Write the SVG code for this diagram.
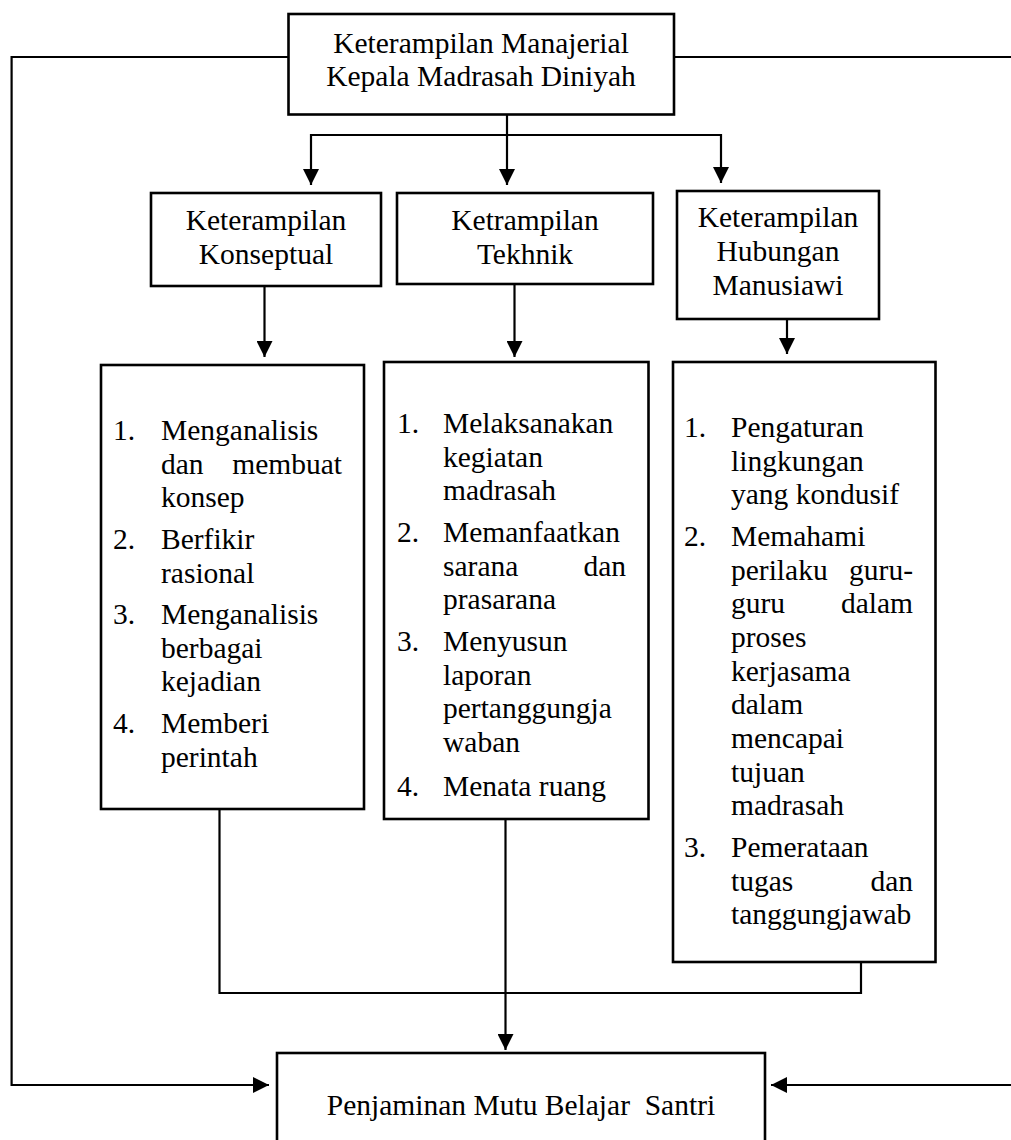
<svg xmlns="http://www.w3.org/2000/svg" width="1011" height="1140" viewBox="0 0 1011 1140" font-family="'Liberation Serif', 'Times New Roman', serif">
<defs>
<style>
.box{fill:#fff;stroke:#000;stroke-width:2.6}
.ln{fill:none;stroke:#000;stroke-width:2.2}
text{font-family:"Liberation Serif","Times New Roman",serif;font-size:29.5px;fill:#000}
.c{text-anchor:middle}
.e{text-anchor:end}
</style>
<marker id="ah" viewBox="0 0 10 10" refX="10" refY="5" markerWidth="16" markerHeight="16" markerUnits="userSpaceOnUse" orient="auto" preserveAspectRatio="none">
<path d="M0,0 L10,5 L0,10 z" fill="#000"/>
</marker>
</defs>
<rect width="1011" height="1140" fill="#fff"/>

<g id="connectors">
<path class="ln" d="M288,57 H11.6 V1085 H269" marker-end="url(#ah)"/>
<path class="ln" d="M674,57 H1012"/>
<path class="ln" d="M1012,1085 H771" marker-end="url(#ah)"/>
<path class="ln" d="M507,114 V185" marker-end="url(#ah)"/>
<path class="ln" d="M311,135 H721"/>
<path class="ln" d="M311,134 V185" marker-end="url(#ah)"/>
<path class="ln" d="M721,134 V183" marker-end="url(#ah)"/>
<path class="ln" d="M264.5,286 V357" marker-end="url(#ah)"/>
<path class="ln" d="M514.5,284 V357" marker-end="url(#ah)"/>
<path class="ln" d="M787,319 V354" marker-end="url(#ah)"/>
<path class="ln" d="M219.5,809 V993 H861 V962"/>
<path class="ln" d="M505.5,819 V1050" marker-end="url(#ah)"/>
</g>

<g id="node-manajerial">
<rect class="box" x="288.5" y="14" width="385.5" height="100.5"/>
<text class="c" x="481" y="53">Keterampilan Manajerial</text>
<text class="c" x="481" y="86">Kepala Madrasah Diniyah</text>
</g>

<g id="node-konseptual">
<rect class="box" x="151" y="193" width="230" height="93"/>
<text class="c" x="266" y="230">Keterampilan</text>
<text class="c" x="266" y="264">Konseptual</text>
</g>

<g id="node-tekhnik">
<rect class="box" x="397" y="193" width="256" height="91"/>
<text class="c" x="525" y="230">Ketrampilan</text>
<text class="c" x="525" y="264">Tekhnik</text>
</g>

<g id="node-hubungan">
<rect class="box" x="677" y="191" width="202" height="128"/>
<text class="c" x="778" y="227">Keterampilan</text>
<text class="c" x="778" y="261">Hubungan</text>
<text class="c" x="778" y="295">Manusiawi</text>
</g>

<g id="node-list-konseptual">
<rect class="box" x="101" y="365" width="263" height="444"/>
<text x="113" y="440">1.</text>
<text x="161" y="440">Menganalisis</text>
<text x="161" y="474">dan</text>
<text class="e" x="342" y="474">membuat</text>
<text x="161" y="507">konsep</text>
<text x="113" y="549">2.</text>
<text x="161" y="549">Berfikir</text>
<text x="161" y="583">rasional</text>
<text x="113" y="624">3.</text>
<text x="161" y="624">Menganalisis</text>
<text x="161" y="658">berbagai</text>
<text x="161" y="691">kejadian</text>
<text x="113" y="733">4.</text>
<text x="161" y="733">Memberi</text>
<text x="161" y="767">perintah</text>
</g>

<g id="node-list-tekhnik">
<rect class="box" x="384" y="362" width="264.5" height="457"/>
<text x="397" y="433">1.</text>
<text x="443" y="433">Melaksanakan</text>
<text x="443" y="467">kegiatan</text>
<text x="443" y="500">madrasah</text>
<text x="397" y="542">2.</text>
<text x="443" y="542">Memanfaatkan</text>
<text x="443" y="576">sarana</text>
<text class="e" x="626" y="576">dan</text>
<text x="443" y="609">prasarana</text>
<text x="397" y="651">3.</text>
<text x="443" y="651">Menyusun</text>
<text x="443" y="685">laporan</text>
<text x="443" y="718">pertanggungja</text>
<text x="443" y="752">waban</text>
<text x="397" y="796">4.</text>
<text x="443" y="796">Menata ruang</text>
</g>

<g id="node-list-hubungan">
<rect class="box" x="673" y="362" width="262.5" height="600"/>
<text x="684" y="437">1.</text>
<text x="731" y="437">Pengaturan</text>
<text x="731" y="471">lingkungan</text>
<text x="731" y="504">yang kondusif</text>
<text x="684" y="546">2.</text>
<text x="731" y="546">Memahami</text>
<text x="731" y="580">perilaku</text>
<text class="e" x="913" y="580">guru-</text>
<text x="731" y="613">guru</text>
<text class="e" x="913" y="613">dalam</text>
<text x="731" y="647">proses</text>
<text x="731" y="681">kerjasama</text>
<text x="731" y="714">dalam</text>
<text x="731" y="748">mencapai</text>
<text x="731" y="782">tujuan</text>
<text x="731" y="815">madrasah</text>
<text x="684" y="857">3.</text>
<text x="731" y="857">Pemerataan</text>
<text x="731" y="891">tugas</text>
<text class="e" x="913" y="891">dan</text>
<text x="731" y="924">tanggungjawab</text>
</g>

<g id="node-penjaminan">
<rect class="box" x="277" y="1053" width="488" height="100"/>
<text class="c" x="521" y="1115" style="white-space:pre">Penjaminan Mutu Belajar  Santri</text>
</g>
</svg>
